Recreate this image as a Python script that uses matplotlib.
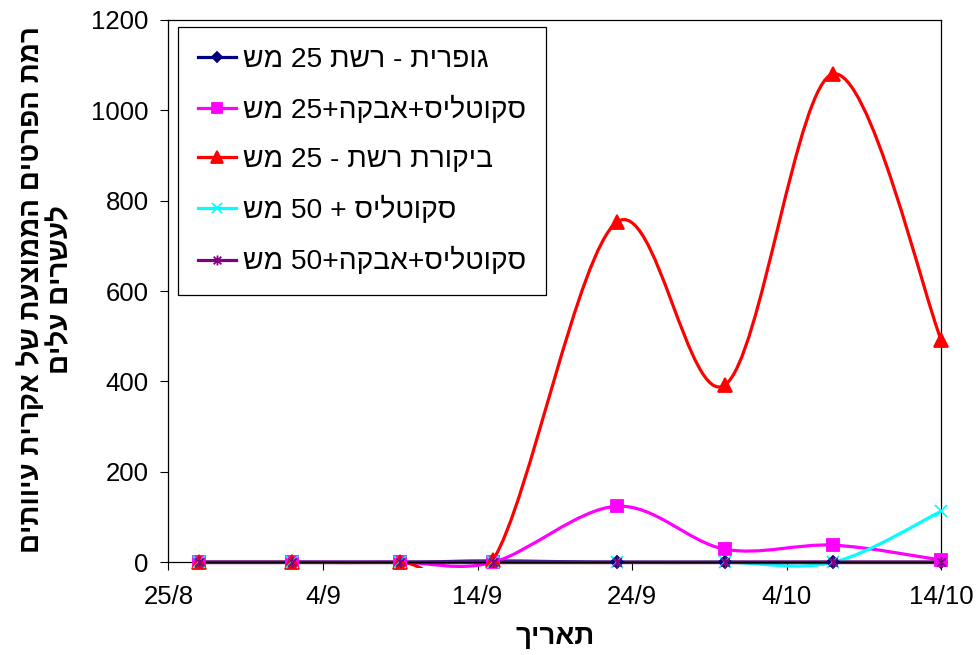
import datetime as dt
import numpy as np
import matplotlib
matplotlib.use("Agg")
import matplotlib.pyplot as plt
import matplotlib.dates as mdates
from matplotlib.path import Path
from matplotlib.patches import PathPatch, Rectangle
from matplotlib.lines import Line2D

plt.rcParams['font.family'] = ['Liberation Sans', 'DejaVu Sans']

# sampling dates (2008 season)
dates = [dt.date(2008, 8, 27), dt.date(2008, 9, 2), dt.date(2008, 9, 9), dt.date(2008, 9, 15),
         dt.date(2008, 9, 23), dt.date(2008, 9, 30), dt.date(2008, 10, 7), dt.date(2008, 10, 14)]

# mites per 20 leaves, one list per treatment
sulfur_25 = [0, 0, 0, 3, 0, 0, 0, 0]
scut_powder_25 = [0, 0, 0, 0, 124, 29, 38, 5]
control_25 = [0, 0, 0, 5, 752, 392, 1080, 491]
scut_50 = [0, 0, 0, 0, 0, 0, 0, 113]
scut_powder_50 = [0, 0, 0, 0, 0, 0, 0, 0]

# labels written in visual (left-to-right) order, since matplotlib has no bidi support
labels = ["שמ 25 תשר - תירפוג",
          "שמ 25+הקבא+סילטוקס",
          "שמ 25 - תשר תרוקיב",
          "שמ 50 + סילטוקס",
          "שמ 50+הקבא+סילטוקס"]
xlabel = "ךיראת"
ylabel = "םיתוויע תירקא לש תעצוממה םיטרפה תמר\nםילע םירשעל"

tick_dates = [dt.date(2008, 8, 25), dt.date(2008, 9, 4), dt.date(2008, 9, 14),
              dt.date(2008, 9, 24), dt.date(2008, 10, 4), dt.date(2008, 10, 14)]
tick_labels = ["25/8", "4/9", "14/9", "24/9", "4/10", "14/10"]
y_ticks = [0, 200, 400, 600, 800, 1000, 1200]

# excel style asterisk marker (x with a vertical bar)
star = Path([(-1, -1), (1, 1), (-1, 1), (1, -1), (0, -1.3), (0, 1.3)],
            [Path.MOVETO, Path.LINETO, Path.MOVETO, Path.LINETO, Path.MOVETO, Path.LINETO])

series = [
    (sulfur_25, '#000080', 'D', 6, 2.3),
    (scut_powder_25, '#FF00FF', 's', 8.5, 2.3),
    (control_25, '#FF0000', '^', 9.5, 2.3),
    (scut_50, '#00FFFF', 'x', 8, 2.3),
    (scut_powder_50, '#800080', star, 8, 2.7),
]


def smooth_path(xs, ys):
    # bezier segments like excel's "smoothed line"
    pts = np.column_stack([xs, ys]).astype(float)
    n = len(pts)
    verts = [pts[0]]
    codes = [Path.MOVETO]
    for i in range(n - 1):
        p0 = pts[i - 1] if i > 0 else pts[i]
        p1 = pts[i]
        p2 = pts[i + 1]
        p3 = pts[i + 2] if i + 2 < n else pts[i + 1]
        verts += [p1 + (p2 - p0) / 6, p2 - (p3 - p1) / 6, p2]
        codes += [Path.CURVE4] * 3
    return Path(verts, codes)


fig = plt.figure(figsize=(9.78, 6.55), dpi=100)
ax = fig.add_axes([0.1721, 0.1415, 0.7904, 0.8284])

x = mdates.date2num(dates)
clip = Rectangle((0, -0.011), 1, 1.011, transform=ax.transAxes, visible=False)
ax.add_patch(clip)

handles = []
for (vals, color, marker, ms, lw) in series:
    patch = PathPatch(smooth_path(x, vals), facecolor='none', edgecolor=color, lw=lw, zorder=2)
    ax.add_patch(patch)
    patch.set_clip_path(clip)
    ax.plot(x, vals, linestyle='none', marker=marker, ms=ms, color=color, mfc=color, mec=color,
            mew=1.3, zorder=3, clip_on=False)
    handles.append(Line2D([], [], color=color, lw=2.3, marker=marker, ms=ms * 0.9, mfc=color,
                          mec=color, mew=1.3))

ax.set_xlim(mdates.date2num(tick_dates[0]), mdates.date2num(tick_dates[-1]))
ax.set_ylim(0, 1200)
ax.set_xticks(mdates.date2num(tick_dates))
ax.set_xticklabels(tick_labels)
ax.set_yticks(y_ticks)
ax.tick_params(direction='out', length=6, width=0.8, labelsize=18.5, colors='black')
ax.tick_params(axis='x', pad=10)
ax.tick_params(axis='y', pad=8)
for s in ax.spines.values():
    s.set_linewidth(0.9)
    s.set_color('black')

leg = ax.legend(handles, labels, loc='upper left', bbox_to_anchor=(0.0125, 0.987),
                fontsize=20.3, frameon=True, fancybox=False, framealpha=1, edgecolor='black',
                handlelength=1.35, handletextpad=0.26, labelspacing=0.82, borderpad=0.7,
                borderaxespad=0)
leg.get_frame().set_linewidth(0.9)

fig.text(555 / 978, 1 - 637 / 655, xlabel, ha='center', va='center', fontsize=20, fontweight='bold')
fig.text(46 / 978, 1 - 290 / 655, ylabel, ha='center', va='center', rotation=90,
         fontsize=20, fontweight='bold', linespacing=1.15)

fig.savefig("out.png", dpi=100)
